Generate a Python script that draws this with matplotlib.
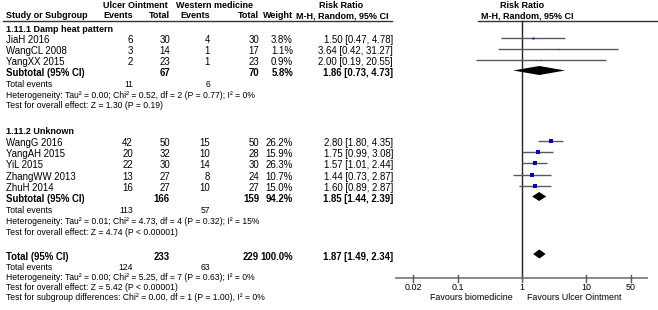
import matplotlib
matplotlib.use("Agg")
import matplotlib.pyplot as plt

plt.rcParams['font.family'] = ['Liberation Sans', 'DejaVu Sans']

# ---------------- data ----------------
group1_label = "1.11.1 Damp heat pattern"
group2_label = "1.11.2 Unknown"

studies_g1 = ["JiaH 2016", "WangCL 2008", "YangXX 2015"]
ulcer_events_g1 = [6, 3, 2]
ulcer_total_g1 = [30, 14, 23]
west_events_g1 = [4, 1, 1]
west_total_g1 = [30, 17, 23]
weight_g1 = [3.8, 1.1, 0.9]
rr_g1 = [1.50, 3.64, 2.00]
lo_g1 = [0.47, 0.42, 0.19]
hi_g1 = [4.78, 31.27, 20.55]

studies_g2 = ["WangG 2016", "YangAH 2015", "YiL 2015", "ZhangWW 2013", "ZhuH 2014"]
ulcer_events_g2 = [42, 20, 22, 13, 16]
ulcer_total_g2 = [50, 32, 30, 27, 27]
west_events_g2 = [15, 10, 14, 8, 10]
west_total_g2 = [50, 28, 30, 24, 27]
weight_g2 = [26.2, 15.9, 26.3, 10.7, 15.0]
rr_g2 = [2.80, 1.75, 1.57, 1.44, 1.60]
lo_g2 = [1.80, 0.99, 1.01, 0.73, 0.89]
hi_g2 = [4.35, 3.08, 2.44, 2.87, 2.87]

sub1 = dict(ut=67, wt=70, w=5.8, rr=1.86, lo=0.73, hi=4.73, ue=11, we=6)
sub2 = dict(ut=166, wt=159, w=94.2, rr=1.85, lo=1.44, hi=2.39, ue=113, we=57)
tot = dict(ut=233, wt=229, w=100.0, rr=1.87, lo=1.49, hi=2.34, ue=124, we=63)

het1 = "Heterogeneity: Tau² = 0.00; Chi² = 0.52, df = 2 (P = 0.77); I² = 0%"
eff1 = "Test for overall effect: Z = 1.30 (P = 0.19)"
het2 = "Heterogeneity: Tau² = 0.01; Chi² = 4.73, df = 4 (P = 0.32); I² = 15%"
eff2 = "Test for overall effect: Z = 4.74 (P < 0.00001)"
het_t = "Heterogeneity: Tau² = 0.00; Chi² = 5.25, df = 7 (P = 0.63); I² = 0%"
eff_t = "Test for overall effect: Z = 5.42 (P < 0.00001)"
sub_diff = "Test for subgroup differences: Chi² = 0.00, df = 1 (P = 1.00), I² = 0%"

tick_vals = [0.02, 0.1, 1, 10, 50]
tick_labels = ["0.02", "0.1", "1", "10", "50"]
favours_left = "Favours biomedicine"
favours_right = "Favours Ulcer Ointment"

FS_ROW = 6.9
FS_HEAD = 6.5
FS_NOTE = 6.2
FS_TICK = 6.4

# ---------------- layout ----------------
W, H = 658, 310
fig = plt.figure(figsize=(W / 100, H / 100), dpi=100)
ax = fig.add_axes([0, 0, 1, 1])
ax.set_xlim(0, W)
ax.set_ylim(H, 0)
ax.axis('off')

X_ONE, DECADE = 522, 64
XL, XR = 395, 648
axf = fig.add_axes([XL / W, 0, (XR - XL) / W, 1])
axf.set_xscale('log')
axf.set_xlim(10 ** ((XL - X_ONE) / DECADE), 10 ** ((XR - X_ONE) / DECADE))
axf.set_ylim(H, 0)
axf.axis('off')

x_name = 6
x_ue, x_ut, x_we, x_wt, x_w, x_ci = 133, 170, 210, 259, 293, 393


def t(x, y, s, ha='left', fs=FS_ROW, bold=False):
    ax.text(x, y, s, ha=ha, va='center', fontsize=fs,
            fontweight='bold' if bold else 'normal', color='black')


# headers
t(135, 5.5, "Ulcer Ointment", ha='center', fs=FS_HEAD, bold=True)
t(214, 5.5, "Western medicine", ha='center', fs=FS_HEAD, bold=True)
t(341, 5.5, "Risk Ratio", ha='center', fs=FS_HEAD, bold=True)
t(522, 5.5, "Risk Ratio", ha='center', fs=FS_HEAD, bold=True)
yh = 15.5
t(x_name, yh, "Study or Subgroup", fs=FS_HEAD, bold=True)
t(x_ue, yh, "Events", ha='right', fs=FS_HEAD, bold=True)
t(x_ut, yh, "Total", ha='right', fs=FS_HEAD, bold=True)
t(x_we, yh, "Events", ha='right', fs=FS_HEAD, bold=True)
t(x_wt, yh, "Total", ha='right', fs=FS_HEAD, bold=True)
t(x_w, yh, "Weight", ha='right', fs=FS_HEAD, bold=True)
t(342, yh, "M-H, Random, 95% CI", ha='center', fs=FS_HEAD, bold=True)
t(527, yh, "M-H, Random, 95% CI", ha='center', fs=FS_HEAD, bold=True)
ax.plot([3, 392], [21, 21], color='#333333', lw=1.0)
ax.plot([478, 658], [21, 21], color='#333333', lw=1.0)

SQ_COLOR = '#0000cc'
LINE_COLOR = '#5a5a5a'
MARK_OFF = 2.5


def study_rows(names_, ue, ut, we, wt, w, rr, lo, hi, ys):
    for i, y in enumerate(ys):
        t(x_name, y, names_[i])
        t(x_ue, y, str(ue[i]), ha='right')
        t(x_ut, y, str(ut[i]), ha='right')
        t(x_we, y, str(we[i]), ha='right')
        t(x_wt, y, str(wt[i]), ha='right')
        t(x_w, y, f"{w[i]:.1f}%", ha='right')
        t(x_ci, y, f"{rr[i]:.2f} [{lo[i]:.2f}, {hi[i]:.2f}]", ha='right')
        ym = y - MARK_OFF
        axf.plot([lo[i], hi[i]], [ym, ym], color=LINE_COLOR, lw=1.0,
                 solid_capstyle='butt', zorder=2)
        side_px = 0.95 * w[i] ** 0.5
        axf.plot([rr[i]], [ym], marker='s', ms=side_px * 0.72, mew=0,
                 color=SQ_COLOR, zorder=3)


def summary_row(label, d, y):
    t(x_name, y, label, bold=True)
    t(x_ut, y, str(d['ut']), ha='right', bold=True)
    t(x_wt, y, str(d['wt']), ha='right', bold=True)
    t(x_w, y, f"{d['w']:.1f}%", ha='right', bold=True)
    t(x_ci, y, f"{d['rr']:.2f} [{d['lo']:.2f}, {d['hi']:.2f}]", ha='right', bold=True)
    ym = y - MARK_OFF
    hh = 4.5
    axf.fill([d['lo'], d['rr'], d['hi'], d['rr']], [ym, ym - hh, ym, ym + hh],
             color='black', lw=0, zorder=3)


def events_row(d, y):
    t(x_name, y, "Total events", fs=FS_NOTE)
    t(x_ue, y, str(d['ue']), ha='right', fs=FS_NOTE)
    t(x_we, y, str(d['we']), ha='right', fs=FS_NOTE)


# group 1
t(x_name, 29, group1_label, fs=FS_HEAD, bold=True)
study_rows(studies_g1, ulcer_events_g1, ulcer_total_g1, west_events_g1,
           west_total_g1, weight_g1, rr_g1, lo_g1, hi_g1, [40, 51, 62])
summary_row("Subtotal (95% CI)", sub1, 73)
events_row(sub1, 84.5)
t(x_name, 95.5, het1, fs=FS_NOTE)
t(x_name, 106, eff1, fs=FS_NOTE)

# group 2
t(x_name, 132, group2_label, fs=FS_HEAD, bold=True)
study_rows(studies_g2, ulcer_events_g2, ulcer_total_g2, west_events_g2,
           west_total_g2, weight_g2, rr_g2, lo_g2, hi_g2, [143, 154, 165, 177, 188])
summary_row("Subtotal (95% CI)", sub2, 199)
events_row(sub2, 210.5)
t(x_name, 221.5, het2, fs=FS_NOTE)
t(x_name, 232.5, eff2, fs=FS_NOTE)

# overall
summary_row("Total (95% CI)", tot, 256.5)
events_row(tot, 267)
t(x_name, 277.5, het_t, fs=FS_NOTE)
t(x_name, 288, eff_t, fs=FS_NOTE)
t(x_name, 298, sub_diff, fs=FS_NOTE)

# forest axis
Y_AX = 278
axf.plot([1, 1], [21, Y_AX], color='#222222', lw=1.0, zorder=1)
xmin, xmax = axf.get_xlim()
axf.plot([xmin, xmax], [Y_AX, Y_AX], color='#808080', lw=1.3, zorder=1)
for v, lab in zip(tick_vals, tick_labels):
    axf.plot([v, v], [Y_AX - 3, Y_AX + 3.5], color='#555555', lw=1.0)
    axf.text(v, 287, lab, ha='center', va='center', fontsize=FS_TICK)
t(513, 297.5, favours_left, ha='right', fs=FS_TICK)
t(527, 297.5, favours_right, ha='left', fs=FS_TICK)

fig.savefig("out.png", dpi=100)
